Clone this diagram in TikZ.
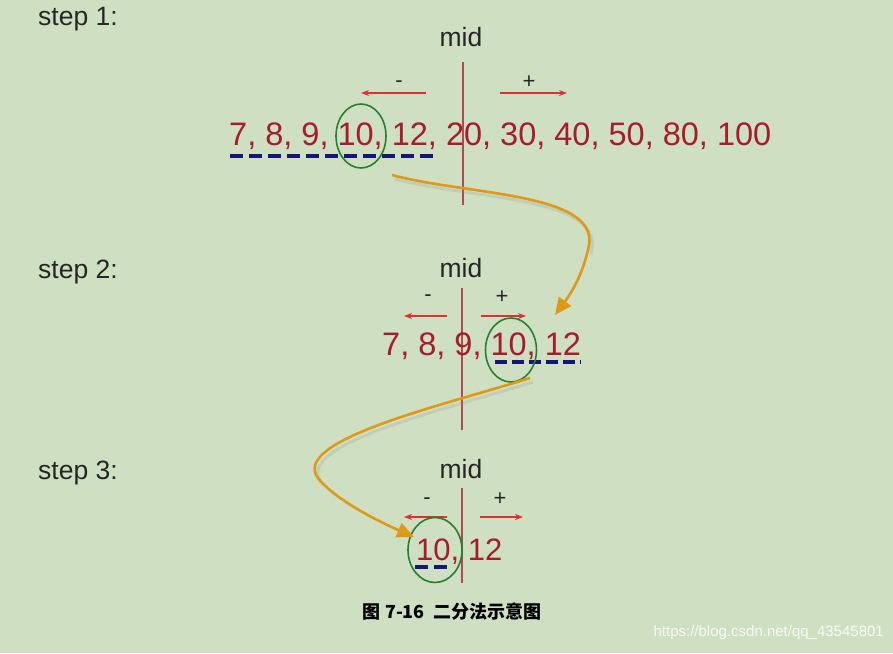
\documentclass[tikz,border=0pt]{standalone}
\usepackage{fontspec}
\setmainfont{Liberation Sans}
\newfontfamily\cjk{Noto Sans CJK SC}
\usetikzlibrary{arrows.meta,shapes.geometric}
\definecolor{bgc}{RGB}{207,223,194}
\definecolor{numred}{RGB}{165,28,42}
\definecolor{midred}{RGB}{178,72,82}
\definecolor{arrred}{RGB}{222,48,48}
\definecolor{dashblue}{RGB}{22,22,118}
\definecolor{ringgreen}{RGB}{38,128,48}
\definecolor{jumporange}{RGB}{224,152,24}
\begin{document}
\begin{tikzpicture}[x=1pt, y=-1pt,
	steplbl/.style={anchor=base west, inner sep=0pt, font=\fontsize{26.5}{29}\selectfont, text=black!85},
	midlbl/.style={anchor=base, inner sep=0pt, font=\fontsize{26.5}{29}\selectfont, text=black!85},
	sign/.style={inner sep=0pt, font=\fontsize{22}{24}\selectfont, text=black!85},
	row/.style={anchor=base west, inner sep=0pt, text=numred},
	midline/.style={draw=midred, line width=1.1pt},
	dir/.style={draw=arrred, line width=1.1pt, -{Stealth[length=8pt,width=6pt]}},
	under/.style={draw=dashblue, line width=3.4pt},
	ring/.style={ellipse, draw=ringgreen, line width=1.6pt, inner sep=0pt},
	jump/.style={draw=jumporange, line width=2.6pt, -{Triangle[length=17pt,width=15pt]}},
	jumpshadow/.style={draw=black!45, opacity=.2, line width=3pt}]
	\fill[bgc] (0,0) rectangle (893,653);
	\useasboundingbox (0,0) rectangle (893,653);
	% step 1
	\node[steplbl] (step1) at (38,25) {step 1:};
	\node[midlbl] (mid1) at (461,46) {mid};
	\draw[midline] (463,62)--(463,205);
	\coordinate (m1a) at (426,93); \coordinate (m1b) at (361,93);
	\coordinate (p1a) at (500,93); \coordinate (p1b) at (567,93);
	\draw[dir] (m1a)--(m1b);
	\draw[dir] (p1a)--(p1b);
	\node[sign] (minus1) at (399,84) {-};
	\node[sign] (plus1) at (529,82) {+};
	\draw[under, dash pattern=on 13pt off 6pt] (230,156)--(438,156);
	\node[row, font=\fontsize{32.5}{36}\selectfont] (row1) at (229,145) {7, 8, 9, 10, 12, 20, 30, 40, 50, 80, 100};
	\node[ring, minimum width=50pt, minimum height=64pt] (ring1) at (361,136) {};
	% step 2
	\node[steplbl] (step2) at (38,278) {step 2:};
	\node[midlbl] (mid2) at (461,277) {mid};
	\draw[midline] (462,288)--(462,430);
	\coordinate (m2a) at (447,316); \coordinate (m2b) at (404,316);
	\coordinate (p2a) at (481,316); \coordinate (p2b) at (526,316);
	\draw[dir] (m2a)--(m2b);
	\draw[dir] (p2a)--(p2b);
	\node[sign] (minus2) at (428,298) {-};
	\node[sign] (plus2) at (502,297) {+};
	\draw[under, dash pattern=on 12pt off 5pt] (495,362)--(581,362);
	\node[row, font=\fontsize{32.5}{36}\selectfont] (row2) at (382,355) {7, 8, 9, 10, 12};
	\node[ring, minimum width=51pt, minimum height=64pt] (ring2) at (511,350) {};
	% step 3
	\node[steplbl] (step3) at (38,479) {step 3:};
	\node[midlbl] (mid3) at (461,478) {mid};
	\draw[midline] (462,488)--(462,583);
	\coordinate (m3a) at (447,517); \coordinate (m3b) at (404,517);
	\coordinate (p3a) at (480,517); \coordinate (p3b) at (523,517);
	\draw[dir] (m3a)--(m3b);
	\draw[dir] (p3a)--(p3b);
	\node[sign] (minus3) at (427,501) {-};
	\node[sign] (plus3) at (500,499) {+};
	\draw[under, dash pattern=on 13pt off 6pt] (415,567)--(447,567);
	\node[row, font=\fontsize{31}{34}\selectfont] (row3) at (416,560) {10, 12};
	\node[ring, minimum width=54pt, minimum height=65pt] (ring3) at (435,550) {};
	% jumps
	\coordinate (j1s) at (392,175); \coordinate (j1e) at (555,315);
	\coordinate (j2s) at (530,378); \coordinate (j2e) at (414,537);
	\draw[jumpshadow] ([shift={(3,4)}]j1s) .. controls (473,200) and (608,196) .. (591,254);
	\draw[jumpshadow] ([shift={(3,4)}]j2s) .. controls (448,409) and (293,444) .. (321,482);
	\draw[jump] (j1s) .. controls (470,196) and (605,192) .. (588,250) .. controls (582,275) and (572,292) .. (j1e);
	\draw[jump] (j2s) .. controls (445,405) and (290,440) .. (318,478) .. controls (335,500) and (380,522) .. (j2e);
	% caption
	\node[inner sep=0pt, font=\cjk\bfseries\fontsize{18}{20}\selectfont] (cap) at (452,612) {图 7-16\ \ 二分法示意图};
	\node[anchor=east, inner sep=0pt, text=white!88!bgc, font=\fontsize{15}{17}\selectfont] (mark) at (884,633) {https://blog.csdn.net/qq\_43545801};
\end{tikzpicture}
\end{document}
